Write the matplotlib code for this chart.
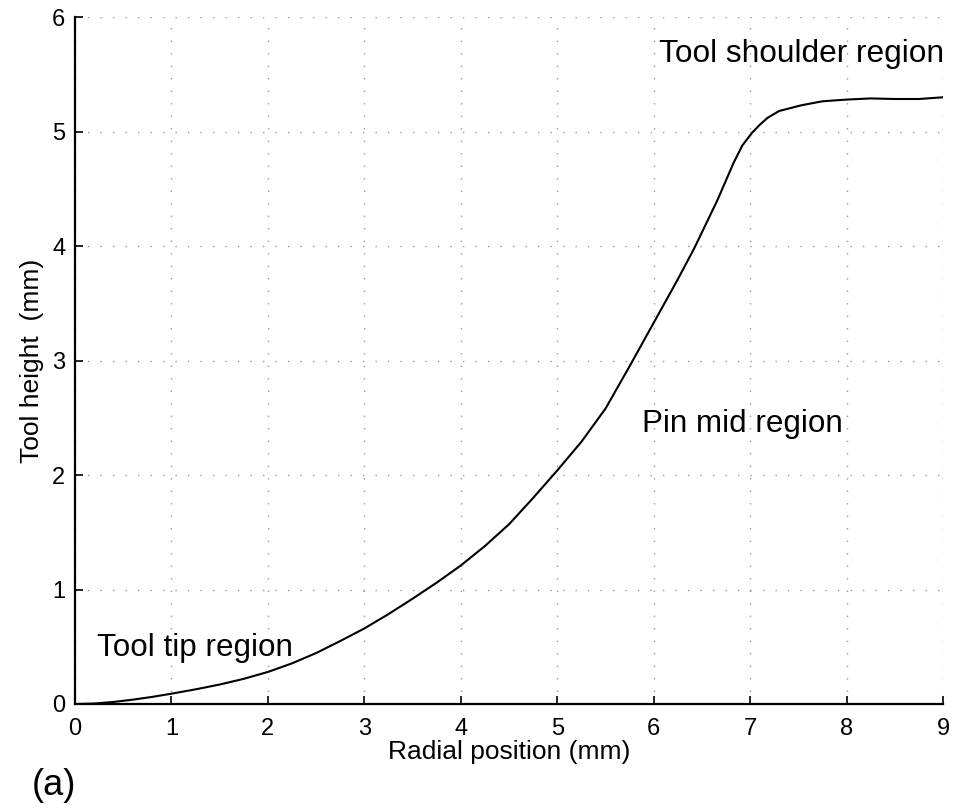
import matplotlib
matplotlib.use("Agg")
import matplotlib.pyplot as plt

radial_mm = [0, 0.2, 0.4, 0.6, 0.8, 1.0, 1.25, 1.5, 1.75, 2.0, 2.25, 2.5, 2.75, 3.0, 3.25,
             3.5, 3.75, 4.0, 4.25, 4.5, 4.75, 5.0, 5.25, 5.5, 5.75, 6.0, 6.25, 6.42, 6.66,
             6.83, 6.92, 7.02, 7.1, 7.18, 7.3, 7.53, 7.75, 8.0, 8.25, 8.5, 8.75, 9.0]
height_mm = [0, 0.004, 0.018, 0.038, 0.062, 0.09, 0.128, 0.17, 0.22, 0.28, 0.355, 0.445, 0.55, 0.66, 0.785,
             0.92, 1.06, 1.21, 1.38, 1.57, 1.80, 2.04, 2.29, 2.58, 2.95, 3.33, 3.71, 3.98, 4.40,
             4.73, 4.88, 4.99, 5.06, 5.12, 5.18, 5.23, 5.265, 5.28, 5.29, 5.285, 5.285, 5.30]
x_ticks = [0, 1, 2, 3, 4, 5, 6, 7, 8, 9]
y_ticks = [0, 1, 2, 3, 4, 5, 6]

plt.rcParams['font.family'] = ['Liberation Sans', 'DejaVu Sans']

fig = plt.figure(figsize=(9.57, 8.09), dpi=100)
ax = fig.add_axes([0.0784, 0.1298, 0.907, 0.849])

ax.plot(radial_mm, height_mm, color='black', linewidth=1.5,
        solid_joinstyle='round', solid_capstyle='round')
ax.set_xlim(0, 9)
ax.set_ylim(0, 6)
ax.set_xticks(x_ticks)
ax.set_yticks(y_ticks)
ax.tick_params(direction='in', length=6, width=1.2, labelsize=17, top=False, right=False)
ax.tick_params(axis='x', pad=10)
ax.tick_params(axis='y', pad=7)
ax.grid(True, linestyle=(0, (1, 8)), color='#999999', linewidth=1.0)
for s in ['top', 'right']:
    ax.spines[s].set_visible(False)
for s in ['left', 'bottom']:
    ax.spines[s].set_linewidth(1.6)

ax.set_xlabel('Radial position (mm)', fontsize=19, labelpad=0)
ax.set_ylabel('Tool height  (mm)', fontsize=19, labelpad=6)

ax.text(6.05, 5.61, 'Tool shoulder region', fontsize=22.8, va='baseline', ha='left')
ax.text(5.88, 2.376, 'Pin mid region', fontsize=22.6, va='baseline', ha='left')
ax.text(0.23, 0.42, 'Tool tip region', fontsize=22.6, va='baseline', ha='left')
fig.text(32 / 957, (809 - 795) / 809, '(a)', fontsize=26, ha='left', va='baseline')

fig.savefig('out.png', dpi=100)
